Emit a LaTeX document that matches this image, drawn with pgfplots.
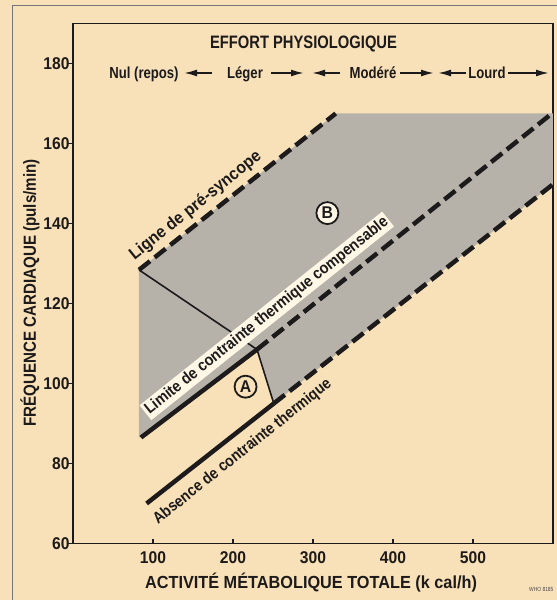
\documentclass[border=0pt]{standalone}
\usepackage{fontspec}
\setmainfont{Liberation Sans}[FakeStretch=0.82]
\newfontfamily\fA{Liberation Sans}[FakeStretch=0.93]
\newfontfamily\fB{Liberation Sans}[FakeStretch=0.90]
\newfontfamily\fC{Liberation Sans}[FakeStretch=0.88]
\newfontfamily\fD{Liberation Sans}[FakeStretch=0.865]
\newfontfamily\fT{Liberation Sans}[FakeStretch=0.92]
\usepackage{pgfplots}
\pgfplotsset{compat=1.18}
\usetikzlibrary{arrows.meta}
\definecolor{bg}{RGB}{248,225,184}
\definecolor{shade}{RGB}{182,178,170}
\definecolor{ink}{RGB}{28,26,26}
\definecolor{boxbg}{RGB}{255,247,230}
\newcommand{\fs}[1]{\fontsize{#1}{#1}\selectfont\bfseries}
\begin{document}
\begin{tikzpicture}[x=1pt,y=1pt]
\fill[bg] (0,0) rectangle (557,600);
\useasboundingbox (0,0) rectangle (557,600);
\draw[ink!60, line width=0.8pt] (12,0) -- (12,595) -- (557,595);
\begin{axis}[
  at={(73pt,56.5pt)}, anchor=south west,
  scale only axis, width=480pt, height=520pt,
  xmin=0, xmax=600, ymin=60, ymax=190,
  xtick={100,200,300,400,500}, ytick={60,80,...,180},
  tick pos=left, tick align=inside, major tick length=5pt,
  y tick style={xshift=-5pt},
  axis line style={ink, line width=1.2pt},
  tick style={ink, line width=1.2pt},
  tick label style={font=\fT\fs{17}, text=ink},
  xticklabel style={yshift=-5pt},
  /pgf/number format/assume math mode=true,
  clip=false,
]
% shaded zone
\addplot[fill=shade, draw=none] coordinates {
  (82.5,128.4) (328.4,167.5) (600,167.5) (600,149.8) (251,95) (230,108.5) (85,86.5) (82.5,86.5)};
% thin lines
\addplot[ink, line width=1.6pt] coordinates {(82.5,128.4) (230,108.5) (251,95)};
% pre-syncope
\addplot[ink, line width=4.5pt, dash pattern=on 14pt off 6pt] coordinates {(82.5,128.4) (328.4,167.5)};
% limite
\addplot[ink, line width=4.5pt] coordinates {(85,86.5) (230,108.5)};
\addplot[ink, line width=4.5pt, dash pattern=on 14pt off 6pt] coordinates {(230,108.5) (598,167.4)};
% absence
\addplot[ink, line width=4.5pt] coordinates {(92,70) (251,95)};
\addplot[ink, line width=4.5pt, dash pattern=on 14pt off 6pt] coordinates {(251,95) (600,149.8)};
% labels along lines
\node[rotate=38.6, anchor=center, inner sep=1pt, font=\fA\fs{17}, text=ink] at (axis cs:153.3,144.4) {Ligne de pré-syncope};
\node[rotate=38.6, anchor=center, inner sep=2pt, fill=boxbg, font=\fB\fs{16}, text=ink] at (axis cs:242.2,116.9) {Limite de contrainte thermique compensable};
\node[rotate=38.6, anchor=center, inner sep=1pt, font=\fC\fs{16}, text=ink] at (axis cs:212,82.9) {Absence de contrainte thermique};
\node[circle, draw=ink, line width=1.8pt, minimum size=22pt, inner sep=0pt, fill=bg, font=\fA\fs{17}, text=ink] at (axis cs:215.7,99.2) {A};
\node[circle, draw=ink, line width=1.8pt, minimum size=22pt, inner sep=0pt, fill=boxbg, font=\fA\fs{17}, text=ink] at (axis cs:318,142.6) {B};
\end{axis}
% axis titles
\node[font=\fA\fs{17.5}, text=ink] at (311,17) {ACTIVITÉ MÉTABOLIQUE TOTALE (k cal/h)};
\node[font=\fD\fs{17.5}, text=ink, rotate=90] at (30,307) {FRÉQUENCE CARDIAQUE (puls/min)};
% effort physiologique header
\node[font=\fs{18}, text=ink, anchor=base] at (303.5,551) {EFFORT PHYSIOLOGIQUE};
\node[font=\fs{16}, text=ink, anchor=base] at (144,521) {Nul (repos)};
\node[font=\fs{16}, text=ink, anchor=base] at (245,521) {Léger};
\node[font=\fs{16}, text=ink, anchor=base] at (373,521) {Modéré};
\node[font=\fs{16}, text=ink, anchor=base] at (487,521) {Lourd};
\begin{scope}[ink, line width=1.8pt, -{Latex[length=13pt,width=7pt]}]
\draw (212,527) -- (184,527);
\draw (271,527) -- (304,527);
\draw (340,527) -- (312,527);
\draw (400,527) -- (434,527);
\draw (466,527) -- (438,527);
\draw (508,527) -- (549,527);
\end{scope}
\node[font=\fontsize{6}{6}\selectfont, text=ink!80, anchor=east] at (557,11) {WHO 8185};
\end{tikzpicture}
\end{document}
